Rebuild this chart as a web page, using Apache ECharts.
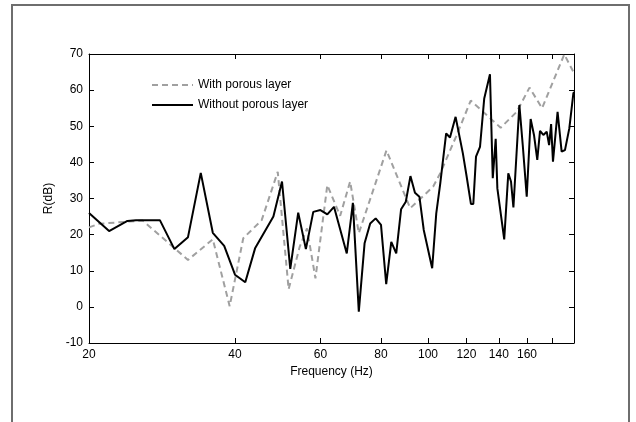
<!DOCTYPE html>
<html>
<head>
<meta charset="utf-8">
<script src="https://cdn.jsdelivr.net/npm/echarts@6/dist/echarts.min.js"></script>
<style>
html,body{margin:0;padding:0;background:#fff;}
#chart{width:636px;height:422px;}
</style>
</head>
<body>
<div id="chart"></div>
<script>
// Without porous layer (black solid)
const freqWithout = [20,22,24,25,28,30,32,34,36,38,40,42,44,48,50,52,54,56,58,60,62,64,68,70,72,74,76,78,80,82,84,86,88,90,92,94,96,98,102,104,106,109,111,114,118,120,122.6,124,125.6,128,130.6,134.2,136,137.9,139,143.6,146.4,148.3,150,154.3,156.8,159.8,162.8,165.4,168,170.2,172.9,175.7,177.7,179.4,181,185,188.6,191.6,195.6,199.4,200];
const valWithout = [26,21,23.8,24,24,16,19.3,37.1,20.5,16.9,8.9,6.8,16.2,25,34.7,10.5,26.1,16,26.3,26.8,25.6,27.7,14.8,28.8,-1.3,17.6,23.1,24.5,22.7,6.3,18,14.8,27,29.1,36.2,31.6,30.5,21.3,10.7,25.9,34.2,48,46.9,52.6,42.5,36.5,28.5,28.5,41.6,44.3,57.7,64.4,35.6,46.5,32.8,18.7,37,34.7,27.5,55.9,44.8,30.5,52,47.6,40.7,48.7,47.6,48.5,44.8,50.6,40.2,54,43,43.4,49.4,59.1,59.5];
// With porous layer (gray dashed)
const freqWith = [20,21,25.8,32,36,39,41.6,45.4,49,51.6,54.4,56.3,58.6,62,65.9,69.1,72,82.1,91.9,102.5,106,114.3,122.5,141.2,152.4,161.9,171.9,191,200];
const valWith = [22,23,23.9,13,18.7,0.2,19,24,37.4,4.9,16.7,21.7,7.9,33.7,25.2,34.7,20.4,43.3,27.3,33.3,37,47.2,57.1,49.6,54,60.7,55,69.9,64.7];
// axis ticks
const xTicks = [20,40,60,80,100,120,140,160,180];
const xLabels = [20,40,60,80,100,120,140,160];

const font = 'Liberation Sans, Arial, sans-serif';
const chart = echarts.init(document.getElementById('chart'), null, {renderer:'canvas'});
const pairs = (fs, vs) => fs.map((f,i)=>[f, vs[i]]);
const axisLine = {show:true, onZero:false, lineStyle:{color:'#000', width:1}};
chart.setOption({
  animation:false,
  backgroundColor:'#fff',
  grid:{left:89, top:54, right:62, bottom:79, show:false},
  graphic:[{
    type:'polyline', silent:true,
    shape:{points:[[12,422],[12,5],[629,5],[629,422]]},
    style:{stroke:'#6e6e6e', lineWidth:2, fill:null}
  }],
  legend:{
    orient:'vertical', left:146, top:74, itemWidth:41, itemHeight:10, itemGap:8,
    itemStyle:{opacity:0},
    textStyle:{fontFamily:font, fontSize:12, color:'#000'},
    data:['With porous layer','Without porous layer']
  },
  xAxis:[{
    type:'log', logBase:10, min:20, max:200,
    name:'Frequency (Hz)', nameLocation:'middle', nameGap:18,
    nameTextStyle:{fontFamily:font, fontSize:12, color:'#000'},
    axisLine:axisLine,
    axisTick:{show:true, inside:true, length:5, customValues:xTicks, lineStyle:{color:'#000'}},
    axisLabel:{show:true, customValues:xLabels, margin:6, fontFamily:font, fontSize:12, color:'#000'},
    minorTick:{show:false}, splitLine:{show:false}
  },{
    type:'log', logBase:10, min:20, max:200, position:'top',
    axisLine:axisLine,
    axisTick:{show:true, inside:true, length:5, customValues:xTicks, lineStyle:{color:'#000'}},
    axisLabel:{show:false}, splitLine:{show:false}
  }],
  yAxis:[{
    type:'value', min:-10, max:70, interval:10,
    name:'R(dB)', nameLocation:'middle', nameGap:28, nameRotate:90,
    nameTextStyle:{fontFamily:font, fontSize:12, color:'#000'},
    axisLine:axisLine,
    axisTick:{show:true, inside:true, length:5, lineStyle:{color:'#000'}},
    axisLabel:{margin:6, fontFamily:font, fontSize:12, color:'#000'},
    splitLine:{show:false}
  },{
    type:'value', min:-10, max:70, interval:10, position:'right',
    axisLine:axisLine,
    axisTick:{show:true, inside:true, length:5, lineStyle:{color:'#000'}},
    axisLabel:{show:false}, splitLine:{show:false}
  }],
  series:[{
    name:'With porous layer', type:'line', xAxisIndex:0, yAxisIndex:0,
    data:pairs(freqWith, valWith), symbol:'none', showSymbol:false,
    itemStyle:{color:'#a0a0a0'},
    lineStyle:{color:'#a0a0a0', width:2, type:[6,4]}
  },{
    name:'Without porous layer', type:'line', xAxisIndex:0, yAxisIndex:0,
    data:pairs(freqWithout, valWithout), symbol:'none', showSymbol:false,
    itemStyle:{color:'#000'},
    lineStyle:{color:'#000', width:2}
  }]
});
</script>
</body>
</html>
